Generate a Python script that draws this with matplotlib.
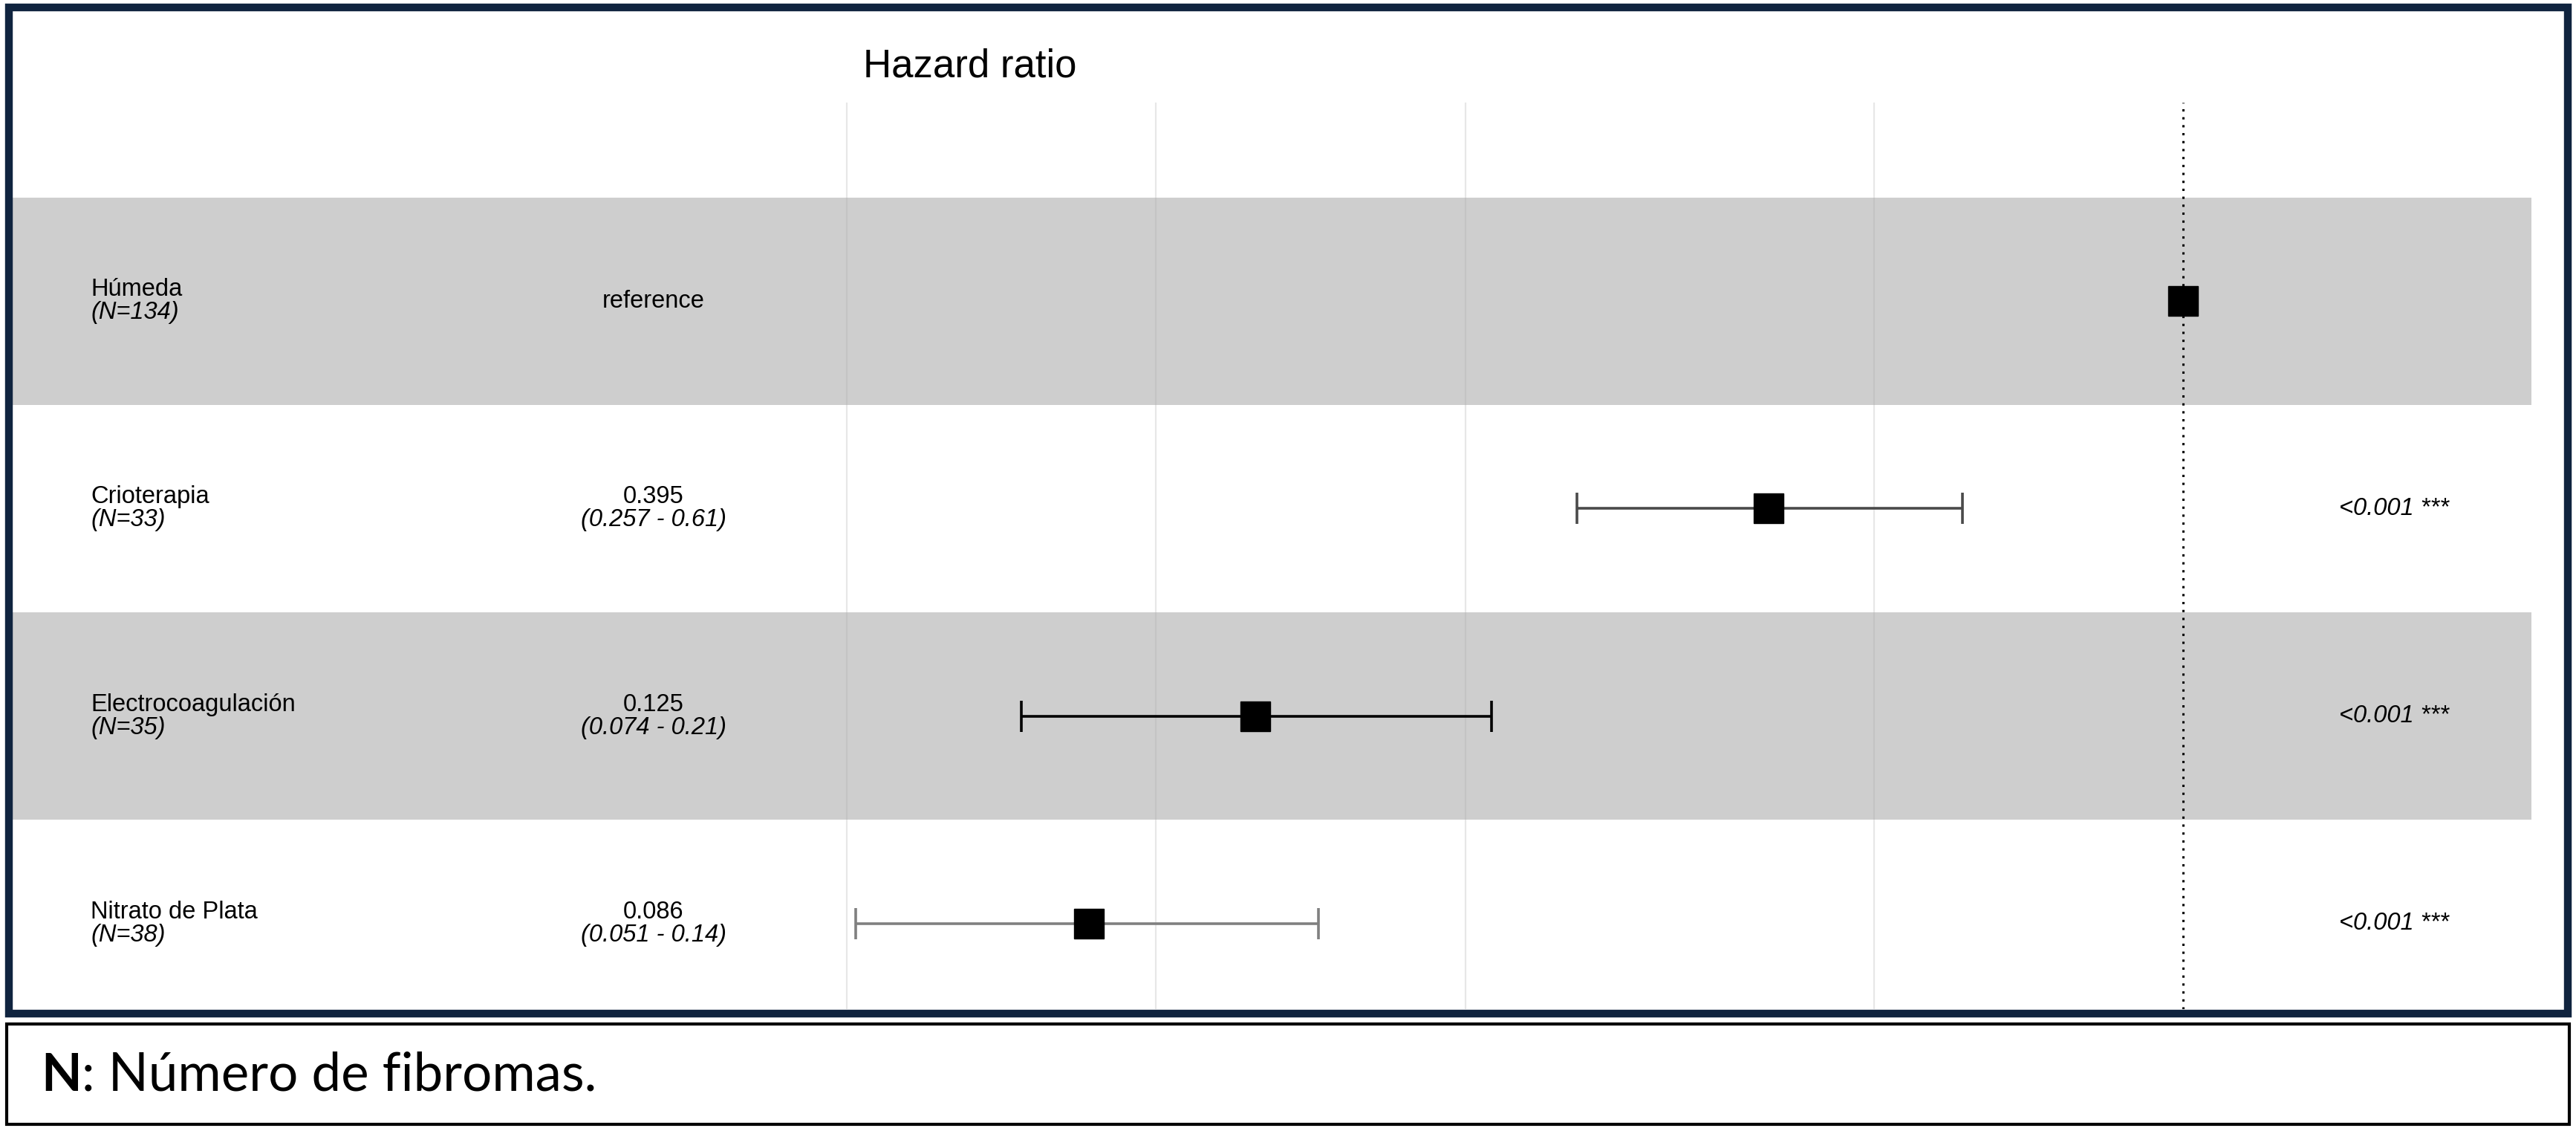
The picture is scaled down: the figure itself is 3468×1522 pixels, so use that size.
import numpy as np
import matplotlib
matplotlib.use("Agg")
import matplotlib.pyplot as plt
from matplotlib.patches import Rectangle
from matplotlib.transforms import blended_transform_factory

# forest plot data (hazard ratios)
groups = ["Húmeda", "Crioterapia", "Electrocoagulación", "Nitrato de Plata"]
n_fib = [134, 33, 35, 38]
hr = [1.0, 0.395, 0.125, 0.086]
ci_low = [np.nan, 0.257, 0.074, 0.051]
ci_high = [np.nan, 0.61, 0.212, 0.144]
hr_text = ["reference", "0.395", "0.125", "0.086"]
ci_text = ["", "(0.257 - 0.61)", "(0.074 - 0.21)", "(0.051 - 0.14)"]
p_text = ["", "<0.001 ***", "<0.001 ***", "<0.001 ***"]
grid_x = [0.05, 0.1, 0.2, 0.5]
bar_colors = ["black", "#4a4a4a", "black", "#808080"]

W, H = 3468, 1522
fig = plt.figure(figsize=(W / 100, H / 100), dpi=100)
fig.patch.set_facecolor("white")

def fx(p):
    return p / W

def fy(p):
    return 1 - p / H

plt.rcParams["font.family"] = ["Liberation Sans", "DejaVu Sans"]
fs = 23.5

# main panel, x on log scale (~600 px per ln unit, HR=1 at px 2939)
left, right, top, bottom = 17, 3408, 138, 1358
ax = fig.add_axes([fx(left), fy(bottom), fx(right) - fx(left), (bottom - top) / H])
ax.set_xscale("log")
ax.set_xlim(np.exp((left - 2939) / 600.5), np.exp((right - 2939) / 600.5))
ax.set_ylim(3 + 115 / 279, -267 / 279)
ax.axis("off")

rows = np.arange(len(groups))
for r in rows:
    if r % 2 == 0:
        ax.axhspan(r - 0.5, r + 0.5, color="#cecece", zorder=0, lw=0)

for g in grid_x:
    ax.axvline(g, color="#b0b0b0", alpha=0.3, lw=1.6, zorder=1)
ax.axvline(1, color="black", ls=(0, (1, 2.5)), lw=2.2, zorder=2)

for r in rows:
    if not np.isnan(ci_low[r]):
        ax.errorbar(hr[r], r, xerr=[[hr[r] - ci_low[r]], [ci_high[r] - hr[r]]],
                    fmt="none", ecolor=bar_colors[r], elinewidth=2.6,
                    capsize=15, capthick=2.6, zorder=3)
    ax.plot(hr[r], r, marker="s", ms=28.5, color="black", mec="black",
            ls="none", zorder=4)

tr = blended_transform_factory(fig.transFigure, ax.transData)
dy = 15.5 / 279
for r in rows:
    ax.text(fx(122), r - dy, groups[r], transform=tr, fontsize=fs,
            ha="left", va="center")
    ax.text(fx(122), r + dy, "(N=%d)" % n_fib[r], transform=tr, fontsize=fs,
            style="italic", ha="left", va="center")
    if ci_text[r]:
        ax.text(fx(880), r - dy, hr_text[r], transform=tr, fontsize=fs,
                ha="center", va="center")
        ax.text(fx(880), r + dy, ci_text[r], transform=tr, fontsize=fs,
                style="italic", ha="center", va="center")
    else:
        ax.text(fx(880), r, hr_text[r], transform=tr, fontsize=fs,
                ha="center", va="center")
    if p_text[r]:
        ax.text(fx(3223), r, p_text[r], transform=tr, fontsize=fs,
                style="italic", ha="center", va="center")

fig.text(fx(1162), fy(90), "Hazard ratio", fontsize=38, ha="left", va="center")

# outer navy frame and footnote box
fig.add_artist(Rectangle((fx(12), fy(1364)), fx(3457) - fx(12), (1364 - 10) / H,
                         transform=fig.transFigure, fill=False,
                         ec="#10243f", lw=7.5))
fig.add_artist(Rectangle((fx(9), fy(1513)), fx(3459) - fx(9), (1513 - 1378) / H,
                         transform=fig.transFigure, fill=False,
                         ec="black", lw=3))

nb = fig.text(fx(55), fy(1447), "N", fontsize=51, fontweight="bold",
              family=["Lato", "DejaVu Sans"], ha="left", va="center")
ax.annotate(": Número de fibromas.", xy=(1, 0.5), xycoords=nb,
            fontsize=51, family=["Lato", "DejaVu Sans"],
            ha="left", va="center", annotation_clip=False)

fig.savefig("out.png", dpi=100)
